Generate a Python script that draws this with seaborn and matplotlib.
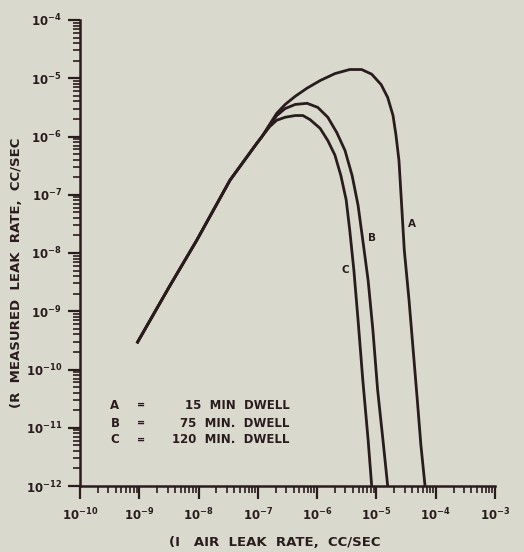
import numpy as np
import pandas as pd
import matplotlib
matplotlib.use("Agg")
import matplotlib.pyplot as plt
import matplotlib.ticker as mticker
import seaborn as sns

# Curve values, stored as log10 exponents (x = air leak rate, y = measured leak rate)
rise_x = [-9.04, -8.50, -8.03, -7.47, -7.02, -6.93]
rise_y = [-9.55, -8.59, -7.78, -6.75, -6.12, -6.00]

a_x = [-6.80, -6.68, -6.54, -6.37, -6.17, -5.95, -5.70, -5.45, -5.25, -5.08, -4.92,
       -4.81, -4.72, -4.67, -4.62, -4.58, -4.53, -4.45, -4.38, -4.31, -4.25, -4.18]
a_y = [-5.79, -5.60, -5.45, -5.31, -5.17, -5.04, -4.92, -4.85, -4.85, -4.93, -5.11,
       -5.33, -5.64, -5.98, -6.41, -7.09, -7.95, -8.81, -9.67, -10.53, -11.30, -12.0]

b_x = [-6.80, -6.68, -6.54, -6.37, -6.17, -5.99, -5.82, -5.67, -5.53, -5.41, -5.31,
       -5.23, -5.14, -5.06, -4.98, -4.89, -4.81]
b_y = [-5.81, -5.64, -5.52, -5.45, -5.43, -5.50, -5.67, -5.93, -6.24, -6.67, -7.18,
       -7.78, -8.47, -9.32, -10.35, -11.21, -12.0]

c_x = [-6.80, -6.68, -6.54, -6.37, -6.24, -6.12, -5.95, -5.82, -5.70, -5.60, -5.51,
       -5.45, -5.38, -5.31, -5.23, -5.14, -5.08]
c_y = [-5.83, -5.72, -5.67, -5.64, -5.64, -5.71, -5.86, -6.07, -6.32, -6.67, -7.09,
       -7.61, -8.30, -9.15, -10.18, -11.21, -12.0]

curve_names = ["A", "B", "C"]
dwell_labels = ["15  MIN  DWELL", "75  MIN.  DWELL", "120  MIN.  DWELL"]

rows = []
for name, xs, ys in zip(curve_names, [a_x, b_x, c_x], [a_y, b_y, c_y]):
    for lx, ly in zip(rise_x + xs, rise_y + ys):
        rows.append({"curve": name, "air": 10.0 ** lx, "measured": 10.0 ** ly})
df = pd.DataFrame(rows)

bg = "#d9dacd"
ink = "#2a1c1e"

sns.set_theme(style="ticks")
plt.rcParams["font.family"] = ["DejaVu Sans"]
plt.rcParams["mathtext.default"] = "regular"

fig = plt.figure(figsize=(5.24, 5.52), dpi=100, facecolor=bg)
ax = fig.add_axes([80 / 524, 1 - 486 / 552, 415 / 524, 466 / 552])
ax.set_facecolor(bg)

sns.lineplot(data=df, x="air", y="measured", hue="curve",
             palette=[ink, ink, ink], estimator=None, sort=False,
             linewidth=2.0, legend=False, ax=ax,
             solid_joinstyle="round", solid_capstyle="butt")

ax.set_xscale("log")
ax.set_yscale("log")
ax.set_xlim(1e-10, 1e-3)
ax.set_ylim(1e-12, 1e-4)
ax.set_xlabel("")
ax.set_ylabel("")

for side in ["top", "right"]:
    ax.spines[side].set_visible(False)
for side in ["left", "bottom"]:
    ax.spines[side].set_color(ink)
    ax.spines[side].set_linewidth(1.8)

ax.xaxis.set_major_locator(mticker.LogLocator(base=10, numticks=20))
ax.yaxis.set_major_locator(mticker.LogLocator(base=10, numticks=20))
ax.xaxis.set_minor_locator(mticker.LogLocator(base=10, subs=np.arange(2, 10), numticks=20))
ax.yaxis.set_minor_locator(mticker.LogLocator(base=10, subs=np.arange(2, 10), numticks=20))
ax.xaxis.set_minor_formatter(mticker.NullFormatter())
ax.yaxis.set_minor_formatter(mticker.NullFormatter())
ax.tick_params(which="major", direction="out", length=9, width=1.6, color=ink,
               labelsize=8.5, labelcolor=ink, pad=4)
ax.tick_params(axis="x", which="major", pad=6)
ax.tick_params(which="minor", direction="out", length=5, width=1.2, color=ink)
for lab in ax.get_xticklabels() + ax.get_yticklabels():
    lab.set_fontweight("bold")

# Curve identifiers next to the falling branches
ax.text(10 ** -4.40, 10 ** -7.51, "A", fontsize=7.5, fontweight="bold", color=ink,
        ha="center", va="center")
ax.text(10 ** -5.08, 10 ** -7.75, "B", fontsize=7.5, fontweight="bold", color=ink,
        ha="center", va="center")
ax.text(10 ** -5.53, 10 ** -8.29, "C", fontsize=7.5, fontweight="bold", color=ink,
        ha="center", va="center")

# Dwell-time key
key_y = [-10.61, -10.92, -11.21]
for name, text, ly in zip(curve_names, dwell_labels, key_y):
    ax.text(10 ** -9.41, 10 ** ly, name, fontsize=8.5, fontweight="bold", color=ink,
            ha="center", va="center")
    ax.text(10 ** -8.97, 10 ** ly, "=", fontsize=7, fontweight="bold", color=ink,
            ha="center", va="center")
    ax.text(10 ** -6.46, 10 ** ly, text, fontsize=8.5, fontweight="bold", color=ink,
            ha="right", va="center")

fig.text(17 / 524, 1 - 273 / 552, "(R  MEASURED  LEAK  RATE,  CC/SEC", rotation=90,
         fontsize=9.5, fontweight="bold", color=ink, ha="center", va="center")
fig.text(275 / 524, 1 - 542 / 552, "(I   AIR  LEAK  RATE,  CC/SEC",
         fontsize=9.5, fontweight="bold", color=ink, ha="center", va="center")

fig.savefig("out.png", dpi=100, facecolor=bg)
